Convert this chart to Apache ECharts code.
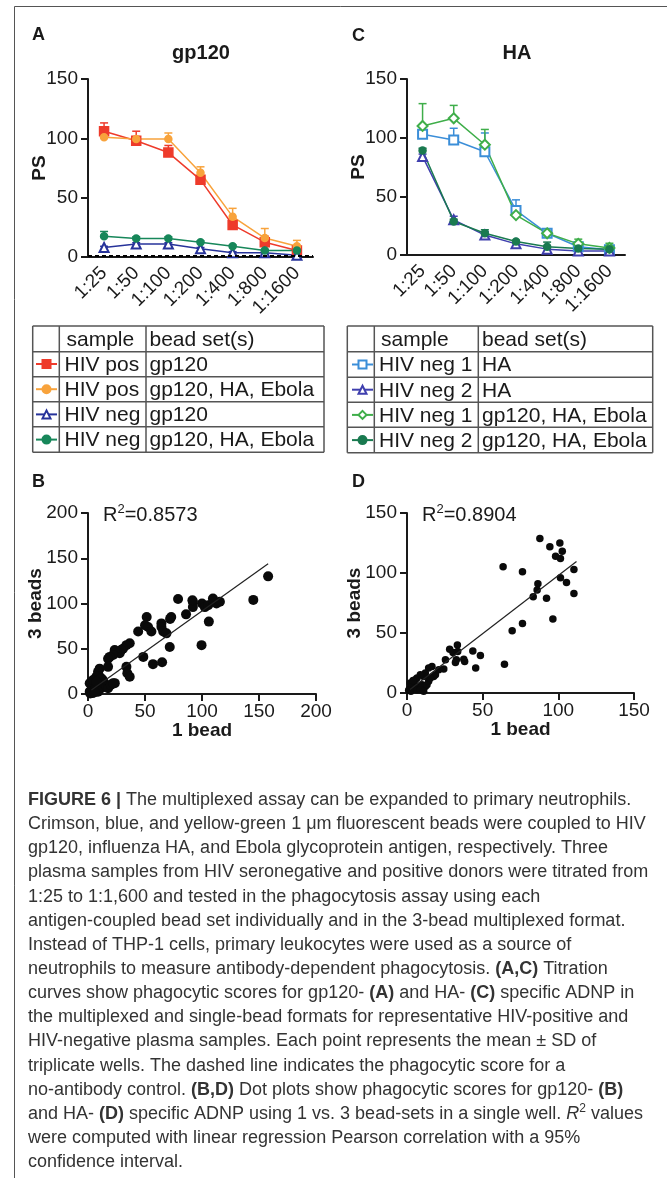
<!DOCTYPE html>
<html>
<head>
<meta charset="utf-8">
<style>
html, body { margin: 0; padding: 0; background: #fff; }
#fig { width: 667px; height: 1178px; }
</style>
<script src="https://cdn.jsdelivr.net/npm/echarts@6/dist/echarts.min.js"></script>
</head>
<body>
<div id="fig"></div>
<script>
var dilutions = ['1:25', '1:50', '1:100', '1:200', '1:400', '1:800', '1:1600'];

// A - gp120 titration (mean, upper SD)
var aPosSingle = [106, 98, 88, 65, 27, 12.5, 5.5];
var aPosSingleSd = [7, 8, 6, 3, 3, 5, 2];
var aPosMulti = [101, 99.5, 99.5, 71, 34, 16, 9];
var aPosMultiSd = [2, 2, 5, 5, 7, 8, 5];
var aNegSingle = [8, 11, 11, 7, 3.5, 3.5, 1.5];
var aNegSingleSd = [1, 1, 1, 1, 1, 1, 0.5];
var aNegMulti = [17.5, 15.5, 15.5, 12.5, 9, 5.5, 5.5];
var aNegMultiSd = [4, 1.5, 1.5, 1, 1, 1, 1];
var noAbControl = 1;

// C - HA titration
var cNeg1Single = [103, 98, 88, 38, 18.5, 7, 4.5];
var cNeg1SingleSd = [1, 10, 16, 9, 2, 2, 1];
var cNeg2Single = [84, 30, 17, 9.5, 5, 3.5, 3.5];
var cNeg2SingleSd = [2, 3, 3, 1, 1, 1, 1];
var cNeg1Multi = [110, 116.5, 94, 34, 18.5, 9.5, 6];
var cNeg1MultiSd = [19, 11, 13, 2, 2, 4, 4];
var cNeg2Multi = [89, 28.5, 18.5, 11.5, 7, 5.5, 5];
var cNeg2MultiSd = [2, 2, 3, 1, 4, 3, 1];

// B - gp120, 1 bead vs 3 beads
var bPoints = [
  [158, 130], [145, 104], [100, 100], [102.5, 96], [105.4, 98], [109.8, 102], [112.7, 100], [115.7, 102],
  [92, 102], [92, 96], [86, 88], [79, 105], [106, 80], [99.6, 54], [73, 85], [72, 83], [71.7, 52],
  [64.4, 78], [64.4, 74], [66, 69], [68.8, 67], [65, 35], [57, 33], [51.5, 85], [50, 76], [52.7, 74],
  [55.6, 69], [44, 69], [48.5, 41], [36.6, 56], [33.7, 54], [30.7, 50], [29, 48.5], [27.8, 45],
  [25, 46.7], [23.4, 48.5], [22, 43], [19, 41], [17.6, 39], [33.7, 30], [34.5, 23], [36.6, 19],
  [23.5, 12], [10.2, 28], [8.8, 24.6], [10, 19], [7.3, 19], [5.9, 15.4], [17.6, 30], [1.5, 2.6],
  [3, 4.4], [4.4, 8], [5.9, 10], [7.3, 6.3], [8.8, 8], [10, 11.8], [11.7, 6.3], [13, 10], [14.6, 11.8],
  [16, 8], [17.6, 6.3], [1.5, 11.8], [3, 13.6], [4.4, 15.4], [5.9, 4.4], [8.8, 2.6], [13, 15.4],
  [11.7, 17.3], [7.3, 13.6], [2, 0.5], [4, 1], [6, 2], [20, 10], [22, 12], [109.6, 105.5], [91.6, 103.6]
];
var bFit = [[3, 4.4], [158, 144]];
var bR2 = '0.8573';

// D - HA, 1 bead vs 3 beads
var dPoints = [
  [87.8, 128.7], [94.4, 121.8], [101, 125], [102.6, 118.2], [98.2, 114], [101.4, 112], [110.3, 103],
  [63.5, 105.2], [76.3, 101], [86.5, 91], [86, 85.8], [101.4, 96], [105.4, 92], [83.4, 80.3],
  [92.2, 79], [110.3, 83], [96.4, 61.7], [76.3, 58], [69.5, 51.8], [64.4, 24], [48.5, 31.3],
  [43.5, 35], [45.4, 20.8], [33.3, 40], [28.2, 36.5], [30.4, 33.8], [33.5, 34.6], [32, 25.5],
  [32.6, 27.7], [37.5, 28.2], [38.1, 26.3], [25.4, 27.7], [24.3, 20], [16.5, 22], [14.3, 20.8],
  [12.1, 16.6], [11, 13.8], [8.8, 15.2], [6.6, 12.5], [5.5, 11], [4.4, 8.3], [3.3, 6], [2.2, 4.2],
  [1.1, 2.2], [2.6, 1.4], [5.5, 4.2], [7.7, 5.5], [9.9, 6.9], [12.1, 5.5], [13.2, 6.9], [14.3, 9.7],
  [17.6, 13.8], [18.8, 15.2], [21, 19.4], [2.2, 8.3], [4, 10.5], [6.6, 2.8], [8.8, 2.8], [11, 1.4],
  [15.4, 12.5]
];
var dFit = [[2, 3], [112, 109.5]];
var dR2 = '0.8904';

// table rows
var aSamples = ['HIV pos', 'HIV pos', 'HIV neg', 'HIV neg'];
var aBeads = ['gp120', 'gp120, HA, Ebola', 'gp120', 'gp120, HA, Ebola'];
var cSamples = ['HIV neg 1', 'HIV neg 2', 'HIV neg 1', 'HIV neg 2'];
var cBeads = ['HA', 'HA', 'gp120, HA, Ebola', 'gp120, HA, Ebola'];

var caption = [
  '{b|FIGURE 6 |} The multiplexed assay can be expanded to primary neutrophils.',
  'Crimson, blue, and yellow-green 1 \u03bcm fluorescent beads were coupled to HIV',
  'gp120, influenza HA, and Ebola glycoprotein antigen, respectively. Three',
  'plasma samples from HIV seronegative and positive donors were titrated from',
  '1:25 to 1:1,600 and tested in the phagocytosis assay using each',
  'antigen-coupled bead set individually and in the 3-bead multiplexed format.',
  'Instead of THP-1 cells, primary leukocytes were used as a source of',
  'neutrophils to measure antibody-dependent phagocytosis. {b|(A,C)} Titration',
  'curves show phagocytic scores for gp120- {b|(A)} and HA- {b|(C)} specific ADNP in',
  'the multiplexed and single-bead formats for representative HIV-positive and',
  'HIV-negative plasma samples. Each point represents the mean \u00b1 SD of',
  'triplicate wells. The dashed line indicates the phagocytic score for a',
  'no-antibody control. {b|(B,D)} Dot plots show phagocytic scores for gp120- {b|(B)}',
  'and HA- {b|(D)} specific ADNP using 1 vs. 3 bead-sets in a single well. {i|R}{s|2} values',
  'were computed with linear regression Pearson correlation with a 95%',
  'confidence interval.'
];

var FONT = '"Liberation Sans", Arial, sans-serif';
var INK = '#1a1a1a';

function errRender(color) {
  return function (params, api) {
    var i = api.value(0), m = api.value(1), s = api.value(2);
    var lo = api.coord([i, m]), hi = api.coord([i, m + s]);
    return {
      type: 'group',
      children: [
        { type: 'line', shape: { x1: lo[0], y1: lo[1], x2: hi[0], y2: hi[1] }, style: { stroke: color, lineWidth: 1.5 } },
        { type: 'line', shape: { x1: hi[0] - 4, y1: hi[1], x2: hi[0] + 4, y2: hi[1] }, style: { stroke: color, lineWidth: 1.5 } }
      ]
    };
  };
}

function curve(name, ax, vals, sds, color, symbol, size) {
  return [{
    name: name, type: 'line', xAxisIndex: ax, yAxisIndex: ax,
    data: vals, symbol: symbol, symbolSize: size,
    itemStyle: { color: color, borderColor: color, borderWidth: 1.5 },
    lineStyle: { color: color, width: 1.5 },
    z: 3, animation: false
  }, {
    type: 'custom', xAxisIndex: ax, yAxisIndex: ax,
    data: vals.map(function (v, i) { return [i, v, sds[i]]; }),
    encode: { x: 0, y: 1 },
    renderItem: errRender(color), z: 2, silent: true
  }];
}

function catAxis(g) {
  return {
    type: 'category', gridIndex: g, data: dilutions, boundaryGap: true,
    axisLine: { lineStyle: { color: INK, width: 2 } },
    axisTick: { alignWithLabel: true, length: 7, lineStyle: { color: INK, width: 2 } },
    axisLabel: { rotate: 45, interval: 0, fontSize: 19, color: INK, margin: 13, fontFamily: FONT }
  };
}

function valAxis(g, max, name, gap, isY) {
  return {
    type: 'value', gridIndex: g, min: 0, max: max, interval: 50,
    name: name, nameLocation: 'middle', nameGap: gap, nameMoveOverlap: false,
    nameTextStyle: { fontSize: 19, fontWeight: 'bold', color: INK, fontFamily: FONT },
    axisLine: { show: true, lineStyle: { color: INK, width: 2 } },
    axisTick: { show: true, length: 7, lineStyle: { color: INK, width: 2 } },
    axisLabel: { fontSize: 19, color: INK, margin: isY ? 10 : 8, fontFamily: FONT },
    splitLine: { show: false }
  };
}

var series = [];
series = series.concat(
  curve('A1', 0, aPosSingle, aPosSingleSd, '#ee3b2b', 'rect', 9),
  curve('A2', 0, aPosMulti, aPosMultiSd, '#f8a33c', 'circle', 7),
  curve('A3', 0, aNegSingle, aNegSingleSd, '#27339a', 'emptyTriangle', 9),
  curve('A4', 0, aNegMulti, aNegMultiSd, '#17875a', 'circle', 7),
  curve('C1', 1, cNeg1Single, cNeg1SingleSd, '#3b8ed8', 'emptyRect', 9),
  curve('C2', 1, cNeg2Single, cNeg2SingleSd, '#3f3fae', 'emptyTriangle', 9),
  curve('C3', 1, cNeg1Multi, cNeg1MultiSd, '#3fae4a', 'emptyDiamond', 10),
  curve('C4', 1, cNeg2Multi, cNeg2MultiSd, '#1a7a50', 'circle', 7)
);
series[0].markLine = {
  silent: true, symbol: 'none', label: { show: false },
  lineStyle: { color: '#000', type: [4, 3], width: 2 },
  data: [{ yAxis: noAbControl }]
};
series.push(
  { type: 'scatter', xAxisIndex: 2, yAxisIndex: 2, data: bPoints, symbolSize: 10, itemStyle: { color: '#0a0a0a', opacity: 1 } },
  { type: 'line', xAxisIndex: 2, yAxisIndex: 2, data: bFit, showSymbol: false, lineStyle: { color: '#222', width: 1.2 } },
  { type: 'scatter', xAxisIndex: 3, yAxisIndex: 3, data: dPoints, symbolSize: 7.5, itemStyle: { color: '#0a0a0a', opacity: 1 } },
  { type: 'line', xAxisIndex: 3, yAxisIndex: 3, data: dFit, showSymbol: false, lineStyle: { color: '#222', width: 1.2 } }
);

// graphic: frame, letters, titles, tables, caption
var g = [];
function txt(x, y, text, size, weight, align, rich) {
  g.push({
    type: 'text', x: x, y: y, silent: true,
    style: {
      text: text, fontSize: size, fontWeight: weight || 'normal', fontFamily: FONT, fill: INK,
      align: align || 'left', verticalAlign: 'middle', textAlign: align || 'left', textVerticalAlign: 'middle',
      lineHeight: size + 4, rich: rich
    }
  });
}
function ln(x1, y1, x2, y2, color, w) {
  g.push({ type: 'line', silent: true, shape: { x1: x1, y1: y1, x2: x2, y2: y2 }, style: { stroke: color, lineWidth: w } });
}

ln(14.5, 6.5, 667, 6.5, '#555', 1);
ln(14.5, 6.5, 14.5, 1178, '#555', 1);

txt(32, 35.5, 'A', 18, 'bold');
txt(352, 36.5, 'C', 18, 'bold');
txt(32, 482.5, 'B', 18, 'bold');
txt(352, 482.5, 'D', 18, 'bold');
txt(201, 53, 'gp120', 20, 'bold', 'center');
txt(517, 53, 'HA', 20, 'bold', 'center');

var supRich = { s: { fontSize: 13, verticalAlign: 'top', fontFamily: FONT, fill: INK, lineHeight: 24 } };
txt(103, 515, 'R{s|2}=' + bR2, 20, 'normal', 'left', supRich);
txt(422, 515, 'R{s|2}=' + dR2, 20, 'normal', 'left', supRich);

function table(cols, rows, samples, beads, sx, bx) {
  var i;
  for (i = 0; i < cols.length; i++) ln(cols[i], rows[0], cols[i], rows[rows.length - 1], '#555', 1.5);
  for (i = 0; i < rows.length; i++) ln(cols[0], rows[i], cols[cols.length - 1], rows[i], '#555', 1.5);
  var tc = function (r) { return (rows[r] + rows[r + 1]) / 2 + 1; };
  txt(sx + 2, tc(0), 'sample', 21);
  txt(bx, tc(0), 'bead set(s)', 21);
  for (i = 0; i < samples.length; i++) {
    txt(sx, tc(i + 1), samples[i], 21);
    txt(bx, tc(i + 1), beads[i], 21);
  }
}
table([32.7, 59.3, 146, 324], [326, 351.7, 376.7, 401.7, 426.7, 452.3], aSamples, aBeads, 64.5, 149.5);
table([347.3, 374.3, 478.3, 652.7], [326, 351.7, 377.3, 402.3, 427.3, 452.7], cSamples, cBeads, 379, 482);

var capRich = {
  b: { fontWeight: 'bold', fontSize: 18, fontFamily: FONT, fill: '#333', lineHeight: 22 },
  i: { fontStyle: 'italic', fontSize: 18, fontFamily: FONT, fill: '#333', lineHeight: 22 },
  s: { fontSize: 12, verticalAlign: 'top', fontFamily: FONT, fill: '#333', lineHeight: 22 }
};
caption.forEach(function (line, k) {
  g.push({
    type: 'text', x: 28, y: 800 + k * 24.15, silent: true,
    style: {
      text: line, fontSize: 18, fontFamily: FONT, fill: '#333', lineHeight: 22,
      align: 'left', verticalAlign: 'middle', textAlign: 'left', textVerticalAlign: 'middle', rich: capRich
    }
  });
});

function legendAt(left, top, names) {
  return {
    orient: 'vertical', left: left, top: top, padding: 0,
    itemWidth: 21, itemHeight: 10, itemGap: 15.2,
    data: names, selectedMode: false,
    formatter: function () { return ''; },
    textStyle: { fontSize: 1 }
  };
}

var chart = echarts.init(document.getElementById('fig'), null, { renderer: 'canvas' });
chart.setOption({
  backgroundColor: '#fff',
  animation: false,
  textStyle: { fontFamily: FONT },
  grid: [
    { left: 88, top: 79, width: 225, height: 178 },
    { left: 407, top: 79, width: 218, height: 176 },
    { left: 88, top: 513, width: 228, height: 181 },
    { left: 407, top: 513, width: 227, height: 180 }
  ],
  xAxis: [
    catAxis(0), catAxis(1),
    valAxis(2, 200, '1 bead', 27, false),
    valAxis(3, 150, '1 bead', 27, false)
  ],
  yAxis: [
    valAxis(0, 150, 'PS', 39, true),
    valAxis(1, 150, 'PS', 39, true),
    valAxis(2, 200, '3 beads', 43, true),
    valAxis(3, 150, '3 beads', 43, true)
  ],
  legend: [
    legendAt(35, 359, ['A1', 'A2', 'A3', 'A4']),
    legendAt(351, 359.5, ['C1', 'C2', 'C3', 'C4'])
  ],
  series: series,
  graphic: g
});
</script>
</body>
</html>
